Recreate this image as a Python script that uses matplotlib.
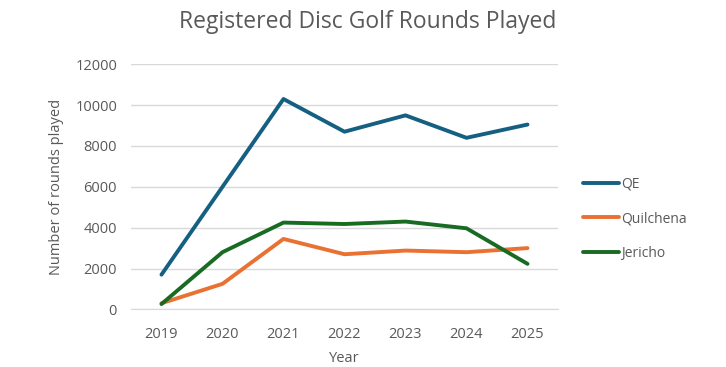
import matplotlib.pyplot as plt

years = ["2019", "2020", "2021", "2022", "2023", "2024", "2025"]
qe = [1700, 6000, 10300, 8700, 9500, 8400, 9050]
quilchena = [300, 1250, 3450, 2700, 2880, 2800, 3000]
jericho = [260, 2800, 4250, 4180, 4300, 3970, 2230]

plt.rcParams['font.family'] = ['Open Sans', 'DejaVu Sans']
grey = '#595959'

fig = plt.figure(figsize=(7.26, 3.67), dpi=100)
ax = fig.add_axes([0.1804, 0.157, 0.5882, 0.6678])

x = range(len(years))
ax.plot(x, qe, color='#156082', lw=2.8, label='QE', solid_capstyle='round')
ax.plot(x, quilchena, color='#E97132', lw=2.8, label='Quilchena', solid_capstyle='round')
ax.plot(x, jericho, color='#196B24', lw=2.8, label='Jericho', solid_capstyle='round')

ax.set_xlim(-0.5, 6.5)
ax.set_ylim(0, 12000)
ax.set_yticks(range(0, 12001, 2000))
ax.set_xticks(list(x))
ax.set_xticklabels(years)
ax.grid(axis='y', color='#d9d9d9', lw=1)
ax.set_axisbelow(True)
for s in ['top', 'right', 'left']:
    ax.spines[s].set_visible(False)
ax.spines['bottom'].set_color('#d9d9d9')
ax.tick_params(length=0, colors=grey, labelsize=10.5)
ax.tick_params(axis='x', pad=13)
ax.tick_params(axis='y', pad=10)

fig.text(0.507, 0.94, 'Registered Disc Golf Rounds Played', color=grey,
         fontsize=16.5, ha='center', va='center')
ax.set_xlabel('Year', color=grey, fontsize=10.5, labelpad=6)
ax.set_ylabel('Number of rounds played', color=grey, fontsize=10.5, labelpad=8)

ax.legend(loc='center left', bbox_to_anchor=(1.03, 0.37), frameon=False,
          labelcolor=grey, fontsize=10, handlelength=2.6, labelspacing=1.4,
          handletextpad=0.1)

fig.savefig('out.png')
